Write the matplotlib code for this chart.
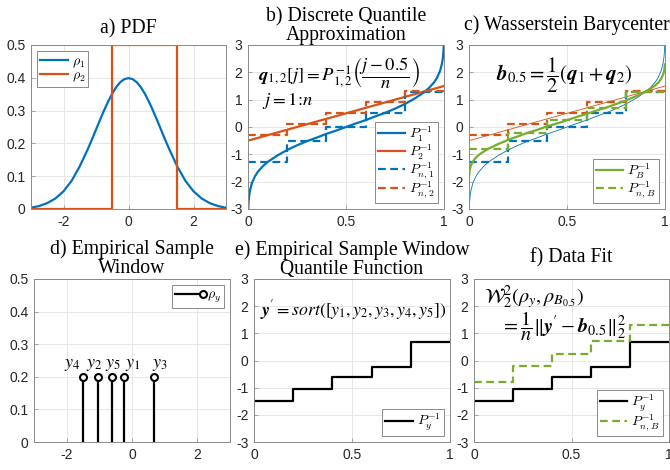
import numpy as np
import matplotlib
matplotlib.use('Agg')
import matplotlib.pyplot as plt
from matplotlib.lines import Line2D
from matplotlib.legend_handler import HandlerBase

# a) PDFs
x_pdf   = [-3, -2.75, -2.5, -2.25, -2, -1.75, -1.5, -1.25, -1.125, -1, -0.875, -0.75, -0.625,
           -0.5, -0.375, -0.25, -0.125, 0, 0.125, 0.25, 0.375, 0.5, 0.625, 0.75, 0.875, 1,
           1.125, 1.25, 1.5, 1.75, 2, 2.25, 2.5, 2.75, 3]
rho1    = [0.004, 0.009, 0.018, 0.032, 0.054, 0.086, 0.130, 0.183, 0.212, 0.242, 0.272, 0.301, 0.328,
           0.352, 0.372, 0.387, 0.396, 0.399, 0.396, 0.387, 0.372, 0.352, 0.328, 0.301, 0.272, 0.242,
           0.212, 0.183, 0.130, 0.086, 0.054, 0.032, 0.018, 0.009, 0.004]
x_unif  = [-3, -0.5, -0.5, 1.5, 1.5, 3]
rho2    = [0, 0, 0.5, 0.5, 0, 0]

# b/c) quantile functions
p_q  = [0.001, 0.003, 0.006, 0.01, 0.02, 0.035, 0.05, 0.075, 0.1, 0.15, 0.2, 0.25, 0.3, 0.35,
        0.4, 0.45, 0.5, 0.55, 0.6, 0.65, 0.7, 0.75, 0.8, 0.85, 0.9, 0.925, 0.95, 0.965,
        0.98, 0.99, 0.994, 0.997, 0.999]
Q1   = [-3.09, -2.75, -2.51, -2.33, -2.05, -1.81, -1.64, -1.44, -1.28, -1.04, -0.84, -0.67, -0.52, -0.39,
        -0.25, -0.13, 0.0, 0.13, 0.25, 0.39, 0.52, 0.67, 0.84, 1.04, 1.28, 1.44, 1.64, 1.81,
        2.05, 2.33, 2.51, 2.75, 3.09]
QB   = [-1.79, -1.62, -1.50, -1.40, -1.26, -1.12, -1.02, -0.90, -0.79, -0.62, -0.47, -0.34, -0.21, -0.10,
        0.03, 0.13, 0.25, 0.37, 0.48, 0.60, 0.71, 0.84, 0.97, 1.12, 1.29, 1.40, 1.52, 1.62,
        1.76, 1.92, 2.00, 2.12, 2.29]
p_lin = [0, 1]
Q2    = [-0.5, 1.5]

# discrete approximations, n = 5
p_edges = [0, 0.2, 0.4, 0.6, 0.8, 1.0]
q1 = [-1.28, -0.52, 0.0, 0.52, 1.28]
q2 = [-0.3, 0.1, 0.5, 0.9, 1.3]
qb = [-0.79, -0.21, 0.25, 0.71, 1.29]

# d/e) empirical sample window
y_samples = [-0.25, -1.05, 0.67, -1.5, -0.6]
y_names   = ['$y_1$', '$y_2$', '$y_3$', '$y_4$', '$y_5$']
y_weight  = [0.2, 0.2, 0.2, 0.2, 0.2]
y_sorted  = [-1.5, -1.05, -0.6, -0.25, 0.67]

BLUE   = '#0072BD'
ORANGE = '#D95319'
GREEN  = '#77AC30'
TXT    = '#262626'
BOX    = '#8a8a8a'
DASH   = (0, (3.5, 2))

plt.rcParams['font.family'] = ['Liberation Sans', 'DejaVu Sans']
plt.rcParams['mathtext.fontset'] = 'cm'
plt.rcParams['axes.unicode_minus'] = False

fig = plt.figure(figsize=(6.7, 4.7), dpi=100)
W, H = 670.0, 470.0

def make_ax(l, r, t, b):
    return fig.add_axes([l / W, 1 - b / H, (r - l) / W, (b - t) / H])

axa = make_ax(31, 226, 45, 209)
axb = make_ax(248, 444, 45, 209)
axc = make_ax(469, 665, 45, 209)
axd = make_ax(34, 230, 279, 442)
axe = make_ax(254, 450, 279, 442)
axf = make_ax(474, 669, 279, 442)

TITLE_FONT = dict(family='Liberation Serif', fontsize=14.2, color='black')

def style(ax, title, pad):
    for s in ax.spines.values():
        s.set_color(BOX)
        s.set_linewidth(0.7)
    ax.tick_params(direction='in', length=3, width=0.5, color=BOX, labelcolor=TXT,
                   labelsize=10, pad=4)
    ax.grid(True, color='#e6e6e6', linewidth=0.7)
    ax.set_axisbelow(True)
    ax.set_title(title, pad=pad, linespacing=1.0, **TITLE_FONT)

class StemHandle(HandlerBase):
    def create_artists(self, legend, orig_handle, xdescent, ydescent, width, height,
                       fontsize, trans):
        yc = height / 2 - ydescent
        line = Line2D([-xdescent, width - xdescent], [yc, yc], color='black', lw=1.6)
        mark = Line2D([width - xdescent], [yc], marker='o', mfc='white', mec='black',
                      ms=5, mew=1.5, ls='none')
        line.set_transform(trans)
        mark.set_transform(trans)
        return [line, mark]

def leg(ax, loc, **kw):
    l = ax.legend(loc=loc, fontsize=10, handlelength=2.0, borderaxespad=0.45,
                  fancybox=False, framealpha=1, edgecolor=BOX,
                  borderpad=0.2, labelspacing=-0.1, handletextpad=0.3, **kw)
    l.get_frame().set_linewidth(0.7)
    return l

def quant_axes(ax):
    ax.set_xlim(0, 1)
    ax.set_ylim(-3, 3)
    ax.set_xticks([0, 0.5, 1])
    ax.set_xticklabels(['0', '0.5', '1'])
    ax.set_yticks([-3, -2, -1, 0, 1, 2, 3])

def pdf_axes(ax):
    ax.set_xlim(-3, 3)
    ax.set_ylim(0, 0.5)
    ax.set_xticks([-2, 0, 2])
    ax.set_yticks([0, 0.1, 0.2, 0.3, 0.4, 0.5])
    ax.set_yticklabels(['0', '0.1', '0.2', '0.3', '0.4', '0.5'])

# a
ax = axa
ax.plot(x_pdf, rho1, color=BLUE, lw=1.6, label=r'$\rho_1$')
ax.plot(x_unif, rho2, color=ORANGE, lw=1.6, label=r'$\rho_2$')
pdf_axes(ax)
style(ax, 'a) PDF', 8)
leg(ax, 'upper left')

# b
ax = axb
ax.plot(p_q, Q1, color=BLUE, lw=1.6, label=r'$P_1^{-1}$')
ax.plot(p_lin, Q2, color=ORANGE, lw=1.6, label=r'$P_2^{-1}$')
ax.plot(p_edges, q1 + [q1[-1]], color=BLUE, lw=1.6, ls=DASH, drawstyle='steps-post',
        label=r'$P_{n,1}^{-1}$')
ax.plot(p_edges, q2 + [q2[-1]], color=ORANGE, lw=1.6, ls=DASH, drawstyle='steps-post',
        label=r'$P_{n,2}^{-1}$')
quant_axes(ax)
style(ax, 'b) Discrete Quantile\nApproximation', 2)
leg(ax, 'lower right')
ax.text(0.05, 2.0, r'$\mathbfit{q}_{1,2}[j] = P_{1,2}^{-1}\left(\dfrac{j-0.5}{n}\right)$',
        fontsize=13.3, va='center', ha='left', math_fontfamily='stix')
ax.text(0.07, 0.95, r'$j = 1\!:\!n$', fontsize=13.3, va='center', ha='left',
        math_fontfamily='stix')

# c
ax = axc
ax.plot(p_q, Q1, color=BLUE, lw=0.6)
ax.plot(p_lin, Q2, color=ORANGE, lw=0.6)
ax.plot(p_edges, q1 + [q1[-1]], color=BLUE, lw=1.6, ls=DASH, drawstyle='steps-post')
ax.plot(p_edges, q2 + [q2[-1]], color=ORANGE, lw=1.6, ls=DASH, drawstyle='steps-post')
ax.plot(p_q, QB, color=GREEN, lw=1.6, label=r'$P_B^{-1}$')
ax.plot(p_edges, qb + [qb[-1]], color=GREEN, lw=1.6, ls=DASH, drawstyle='steps-post',
        label=r'$P_{n,B}^{-1}$')
quant_axes(ax)
style(ax, 'c) Wasserstein Barycenter', 10.5)
leg(ax, 'lower right')
ax.text(0.485, 1.9, r'$\mathbfit{b}_{0.5} = \dfrac{1}{2}(\mathbfit{q}_1 + \mathbfit{q}_2)$',
        fontsize=15, va='center', ha='center', math_fontfamily='stix')

# d
ax = axd
ml, sl, bl = ax.stem(y_samples, y_weight, linefmt='k-', markerfmt='ko', basefmt=' ')
sl.set_linewidth(1.6)
ml.set_markerfacecolor('white')
ml.set_markersize(5)
ml.set_markeredgewidth(1.5)
label_dx = [0.27, -0.10, 0.17, -0.32, 0.03]   # nudges so the names do not collide
for xv, hv, nm, dx in zip(y_samples, y_weight, y_names, label_dx):
    ax.text(xv + dx, hv + 0.012, nm, ha='center', va='bottom', fontsize=13,
            math_fontfamily='stix')
pdf_axes(ax)
style(ax, 'd) Empirical Sample\nWindow', 4.5)
leg(ax, 'upper right', handles=[ml], labels=[r'$\rho_y$'], handler_map={ml: StemHandle()})

# e
ax = axe
ax.plot(p_edges, y_sorted + [y_sorted[-1]], color='black', lw=1.6, drawstyle='steps-post',
        label=r'$P_y^{-1}$')
quant_axes(ax)
style(ax, 'Quantile Function', 2.5)
# first title line as its own text so it can run wider than the axes
ax.text(0.5, 1.148, 'e) Empirical Sample Window', transform=ax.transAxes,
        ha='center', va='baseline', **TITLE_FONT)
leg(ax, 'lower right')
ax.text(0.03, 1.85, r"$\mathbfit{y}' = \mathit{sort}([y_1, y_2, y_3, y_4, y_5])$",
        fontsize=12.8, va='center', ha='left', math_fontfamily='stix')

# f
ax = axf
ax.plot(p_edges, y_sorted + [y_sorted[-1]], color='black', lw=1.6, drawstyle='steps-post',
        label=r'$P_y^{-1}$')
ax.plot(p_edges, qb + [qb[-1]], color=GREEN, lw=1.6, ls=DASH, drawstyle='steps-post',
        label=r'$P_{n,B}^{-1}$')
quant_axes(ax)
style(ax, 'f) Data Fit', 12)
leg(ax, 'lower right')
ax.text(0.05, 2.33, r'$\mathcal{W}_2^2(\rho_y, \rho_{B_{0.5}})$', fontsize=14.5,
        va='center', ha='left', math_fontfamily='stix')
ax.text(0.14, 1.26, r"$= \dfrac{1}{n}\Vert\mathbfit{y}' - \mathbfit{b}_{0.5}\Vert_2^2$",
        fontsize=14.5, va='center', ha='left', math_fontfamily='stix')

fig.savefig('out.png', dpi=100)
